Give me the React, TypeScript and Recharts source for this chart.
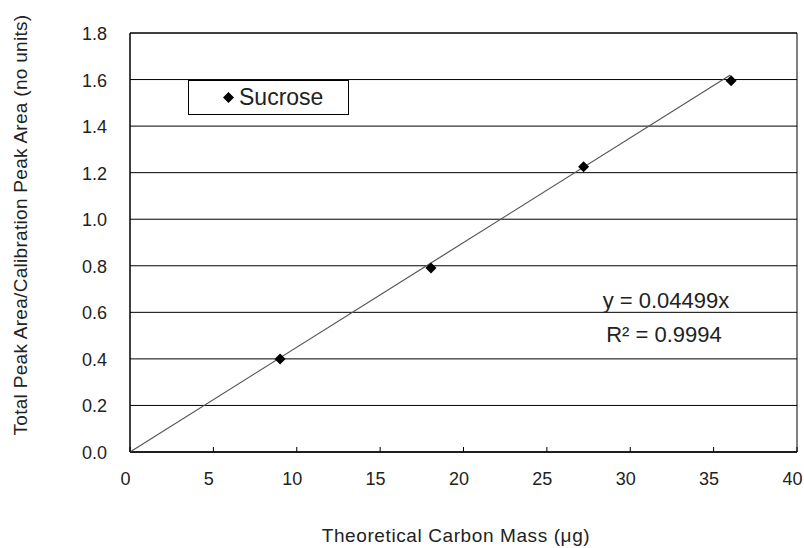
import React from "react";
import { ScatterChart, Scatter, XAxis, YAxis, CartesianGrid, ReferenceArea, Legend, Customized } from "recharts";

const massX = [9.0, 18.05, 27.2, 36.05];
const ratioY = [0.4, 0.79, 1.225, 1.595];
const slope = 0.04499;
const trendEnd = 36.0;
const xTicks = [0, 5, 10, 15, 20, 25, 30, 35, 40];
const yTicks = [0, 0.2, 0.4, 0.6, 0.8, 1.0, 1.2, 1.4, 1.6, 1.8];
const seriesName = "Sucrose";
const eqText = "y = 0.04499x";
const r2Text = "R² = 0.9994";

const points = massX.map((x, i) => ({ x, y: ratioY[i] }));
const trend = [{ x: 0, y: 0 }, { x: trendEnd, y: slope * trendEnd }];

const FONT = "'Liberation Sans', Arial, sans-serif";

const Diamond = (p: any) => {
  const { cx, cy } = p;
  const r = 5.5;
  return <polygon points={`${cx},${cy - r} ${cx + r},${cy} ${cx},${cy + r} ${cx - r},${cy}`} fill="#000" />;
};

const XTick = (p: any) => {
  const { x, y, payload } = p;
  return (
    <g>
      <line x1={x} y1={y} x2={x} y2={y - 5} stroke="#000" strokeWidth={1} />
      <text x={x - 4.5} y={y + 33} textAnchor="middle" fontSize={18} fontFamily={FONT} fill="#222">{payload.value}</text>
    </g>
  );
};

const YTick = (p: any) => {
  const { x, y, payload } = p;
  return (
    <text x={x - 23} y={y + 7} textAnchor="end" fontSize={18} fontFamily={FONT} fill="#222">{Number(payload.value).toFixed(1)}</text>
  );
};

const LegendBox = () => (
  <div style={{ width: 159, height: 33, border: "1px solid #000", background: "#fff", fontFamily: FONT, fontSize: 23, color: "#222", display: "flex", alignItems: "center", boxSizing: "content-box" }}>
    <svg width={11} height={11} style={{ marginLeft: 34, marginRight: 5 }}><polygon points="5.5,0 11,5.5 5.5,11 0,5.5" fill="#000" /></svg>
    <span>{seriesName}</span>
  </div>
);

const Texts = () => (
  <g fontFamily={FONT} fill="#222">
    <text x={666} y={308} textAnchor="middle" fontSize={22}>{eqText}</text>
    <text x={664} y={342} textAnchor="middle" fontSize={22}>{r2Text}</text>
    <text x={456} y={542} textAnchor="middle" fontSize={19} letterSpacing={0.6}>Theoretical Carbon Mass (μg)</text>
    <text x={27} y={225} textAnchor="middle" fontSize={19} letterSpacing={0.3} transform="rotate(-90 27 225)">Total Peak Area/Calibration Peak Area (no units)</text>
  </g>
);

export default function App() {
  return (
    <div style={{ position: "absolute", left: 0, top: 0, background: "#fff" }}>
      <ScatterChart width={804} height={548} margin={{ top: 33, right: 7, bottom: 66, left: 70 }}>
        <CartesianGrid vertical={false} stroke="#000" strokeWidth={1} horizontalValues={yTicks} />
        <XAxis type="number" dataKey="x" domain={[0, 40]} ticks={xTicks} interval={0} height={30} tickSize={0} tickMargin={0} axisLine={{ stroke: "#000" }} tickLine={false} tick={<XTick />} />
        <YAxis type="number" dataKey="y" domain={[0, 1.8]} ticks={yTicks} interval={0} width={60} tickSize={0} tickMargin={0} axisLine={{ stroke: "#000" }} tickLine={false} tick={<YTick />} />
        <ReferenceArea x1={0} x2={40} y1={0} y2={1.8} fill="none" stroke="#000" strokeWidth={1} ifOverflow="visible" />
        <Scatter data={trend} line={{ stroke: "#555", strokeWidth: 1.2 }} shape={() => null} isAnimationActive={false} legendType="none" />
        <Scatter data={points} shape={<Diamond />} isAnimationActive={false} name={seriesName} />
        <Legend layout="horizontal" verticalAlign="middle" align="center" wrapperStyle={{ position: "absolute", left: 188, top: 80, width: 161 }} content={<LegendBox />} />
        <Customized component={<Texts />} />
      </ScatterChart>
    </div>
  );
}
